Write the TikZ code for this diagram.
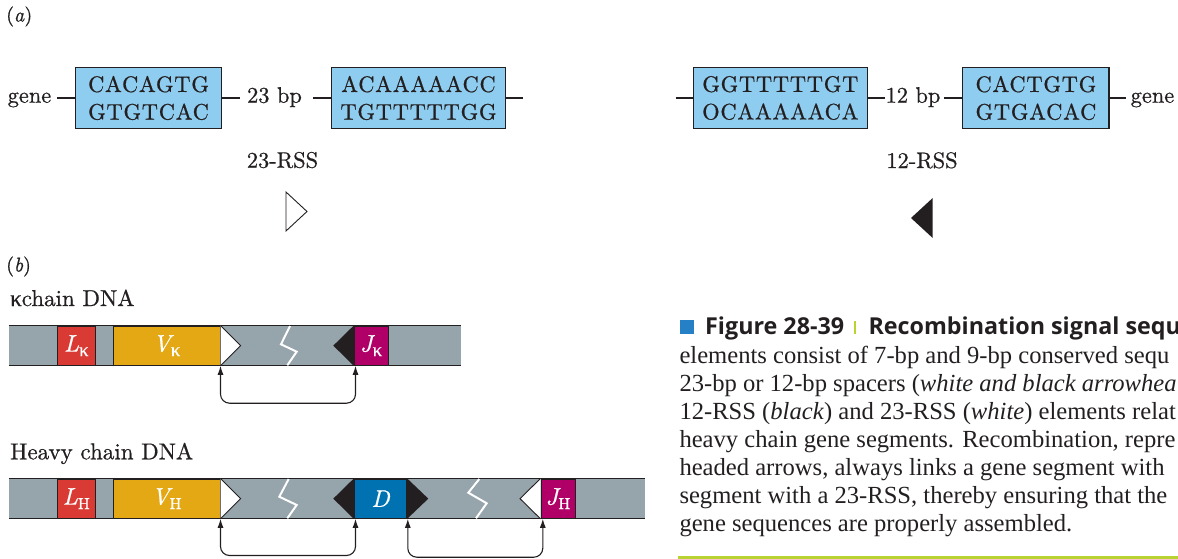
\documentclass[tikz,border=0pt]{standalone}
\usepackage{fontspec}
\usetikzlibrary{arrows.meta,calc}
\setmainfont{lmroman10-regular}[Extension=.otf, ItalicFont=lmroman10-italic, BoldFont=lmroman10-bold, FakeBold=0.7]
\newfontfamily\grk{Liberation Serif}[FakeBold=0.5]
\newfontfamily\capserif{Liberation Serif}
\newfontfamily\capsans{Open Sans}
\definecolor{ink}{RGB}{35,31,32}
\definecolor{boxblue}{RGB}{143,205,240}
\definecolor{bargray}{RGB}{150,164,172}
\definecolor{lred}{RGB}{217,58,52}
\definecolor{vyel}{RGB}{228,168,20}
\definecolor{jmag}{RGB}{176,0,104}
\definecolor{dblue}{RGB}{0,114,178}
\definecolor{capblue}{RGB}{38,128,198}
\definecolor{capgreen}{RGB}{185,212,50}
\newcommand\seqfnt{\fontsize{22.4}{27.6}\selectfont\addfontfeature{LetterSpace=3.5}}
\newcommand\kapsub{\raisebox{-4.5pt}{\fontsize{19}{19}\selectfont\upshape\grk κ}}
\newcommand\hsub{\raisebox{-4.5pt}{\fontsize{16}{16}\selectfont\upshape H}}
\tikzset{
  seqbox/.style={draw=ink, line width=1.2pt, fill=boxblue, minimum height=61pt, inner sep=0pt, align=center, font=\seqfnt, text=ink},
  lbl/.style={font=\fontsize{22.4}{26}\selectfont, text=ink, inner sep=0pt},
  hdr/.style={font=\fontsize{23}{26}\selectfont, text=ink, inner sep=0pt, anchor=base west},
  conn/.style={draw=ink, line width=1.2pt},
  bar/.style={fill=bargray, minimum height=39.3pt, inner sep=0pt},
  barline/.style={draw=ink, line width=1.2pt},
  seg/.style={draw=ink, line width=1pt, minimum height=39.3pt, inner sep=0pt, text=white, font=\fontsize{24}{26}\selectfont\itshape},
  wtri/.style={fill=white, draw=ink, line width=0.9pt, line join=miter},
  zig/.style={draw=white, line width=2pt},
  recomb/.style={draw=ink, line width=1.1pt, {Latex[length=9pt,width=6pt]}-{Latex[length=9pt,width=6pt]}, rounded corners=9pt},
  capb/.style={font=\capsans\bfseries\fontsize{23.3}{26}\selectfont, text=ink, inner sep=0pt, anchor=base west},
  capt/.style={font=\capserif\fontsize{24.6}{28}\selectfont, text=ink, inner sep=0pt, anchor=base west}
}
\begin{document}
\begin{tikzpicture}[x=1pt,y=-1pt]
\useasboundingbox (0,0) rectangle (1178,559);
\clip (0,0) rectangle (1178,559);

% ---------- (a) ----------
\node[font=\fontsize{20}{24}\selectfont, text=ink, inner sep=0pt, anchor=base west] (pa) at (6,21.5) {(\textit{a})};

\node[lbl, anchor=base] (g1) at (29.5,102.7) {gene};
\node[seqbox, minimum width=146.4pt] (b1) at (148.5,98) {CACAGTG\\GTGTCAC};
\node[lbl, anchor=base] (bp23) at (274.5,102.7) {23 bp};
\node[seqbox, minimum width=173.6pt] (b2) at (418.5,98) {ACAAAAACC\\TGTTTTTGG};
\coordinate (e2) at (522.7,98);
\node[lbl, anchor=base] (r23) at (282.5,167.7) {23-RSS};

\coordinate (e3) at (675.7,98);
\node[seqbox, minimum width=174pt] (b3) at (780.3,98) {GGTTTTTGT\\OCAAAAACA};
\node[lbl, anchor=base] (bp12) at (913,102.7) {12 bp};
\node[seqbox, minimum width=146.3pt] (b4) at (1035.9,98) {CACTGTG\\GTGACAC};
\node[lbl, anchor=base] (g2) at (1152.5,102.7) {gene};
\node[lbl, anchor=base] (r12) at (922,168) {12-RSS};

\draw[conn] ($(b1.west)+(-17.3,0)$) -- (b1.west);
\draw[conn] (b1.east) -- ($(b1.east)+(17.3,0)$);
\draw[conn] ($(b2.west)+(-17.7,0)$) -- (b2.west);
\draw[conn] (b2.east) -- (e2);
\draw[conn] (e3) -- (b3.west);
\draw[conn] (b3.east) -- ($(b3.east)+(16.7,0)$);
\draw[conn] ($(b4.west)+(-17.7,0)$) -- (b4.west);
\draw[conn] (b4.east) -- ($(b4.east)+(16.7,0)$);

% legend triangles
\draw[wtri] (286,192) -- (307,211.5) -- (286,231) -- cycle;
\fill[ink] (932.7,198) -- (911,218) -- (932.7,238) -- cycle;

% ---------- (b) ----------
\node[font=\fontsize{20}{24}\selectfont, text=ink, inner sep=0pt, anchor=base west] (pb) at (6,271.5) {(\textit{b})};
\node[hdr] (kh) at (10,306) {{\grk κ}chain DNA};
\node[hdr] (hh) at (10,459.3) {Heavy chain DNA};

% kappa bar
\node[bar, minimum width=451.7pt] (kbar) at (234.85,345.65) {};
\draw[barline] (kbar.north west) -- (kbar.north east);
\draw[barline] (kbar.south west) -- (kbar.south east);
\draw[zig] (290,326) -- (281,344.3) -- (296.7,351.7) -- (287.3,365.3);
\node[seg, fill=lred, minimum width=37.3pt] (Lk) at (76.35,345.65) {L\kapsub};
\node[seg, fill=vyel, minimum width=106.7pt] (Vk) at (166.65,345.65) {V\kapsub};
\node[seg, fill=jmag, minimum width=33.7pt] (Jk) at (371.15,345.65) {J\kapsub};
\draw[wtri] (Vk.north east) -- (240.7,345.65) -- (Vk.south east);
\fill[ink] (Jk.north west) -- (333.3,345.65) -- (Jk.south west) -- cycle;
\draw[recomb] (Vk.south east) -- ++(0,37.4) -| ([xshift=1.7pt]Jk.south west);

% heavy bar
\node[bar, minimum width=636pt] (hbar) at (327,498.65) {};
\draw[barline] (hbar.north west) -- (hbar.north east);
\draw[barline] (hbar.south west) -- (hbar.south east);
\draw[zig] (288.7,479) -- (279.3,496.7) -- (296.7,505) -- (287.3,518.3);
\draw[zig] (479.3,479) -- (468.3,492.7) -- (486.7,503.3) -- (476,518.3);
\node[seg, fill=lred, minimum width=37.3pt] (Lh) at (76.35,498.65) {L\hsub};
\node[seg, fill=vyel, minimum width=106.7pt] (Vh) at (166.65,498.65) {V\hsub};
\node[seg, fill=dblue, minimum width=52.4pt] (Dh) at (380.5,498.65) {D};
\node[seg, fill=jmag, minimum width=34pt] (Jh) at (558,498.65) {J\hsub};
\draw[wtri] (Vh.north east) -- (240.7,498.65) -- (Vh.south east);
\fill[ink] (Dh.north west) -- (333.3,498.65) -- (Dh.south west) -- cycle;
\fill[ink] (Dh.north east) -- (428.3,498.65) -- (Dh.south east) -- cycle;
\draw[wtri] (Jh.north west) -- (520,498.65) -- (Jh.south west);
\draw[recomb] (Vh.south east) -- ++(0,36.7) -| ([xshift=1.7pt]Dh.south west);
\draw[recomb] ([xshift=0.6pt]Dh.south east) -- ++(0,38.4) -| ([xshift=2.3pt]Jh.south west);

% ---------- caption ----------
\node[fill=capblue, minimum size=14.5pt, inner sep=0pt, anchor=south west] (sq) at (679.3,334.3) {};
\node[capb] (fig) at (705,334.3) {Figure 28-39};
\node[fill=capgreen, minimum width=2.2pt, minimum height=13.6pt, inner sep=0pt, anchor=south] (sep) at (855,334.3) {};
\node[capb] (rec) at (868.3,334.3) {Recombination signal seque};
\node[capt] (c2) at (679.3,363) {elements consist of 7-bp and 9-bp conserved sequ};
\node[capt] (c3) at (679.3,391) {23-bp or 12-bp spacers (\textit{white and black arrowhea}};
\node[capt] (c4) at (679.3,419) {12-RSS (\textit{black}) and 23-RSS (\textit{white}) elements relat};
\node[capt] (c5) at (679.3,447) {heavy chain gene segments. Recombination, repre};
\node[capt] (c6) at (679.3,475) {headed arrows, always links a gene segment with};
\node[capt] (c7) at (679.3,503) {segment with a 23-RSS, thereby ensuring that the};
\node[capt] (c8) at (679.3,531) {gene sequences are properly assembled.};
\draw[capgreen, line width=3pt] (678,557.7) -- (1178,557.7);
\end{tikzpicture}
\end{document}
